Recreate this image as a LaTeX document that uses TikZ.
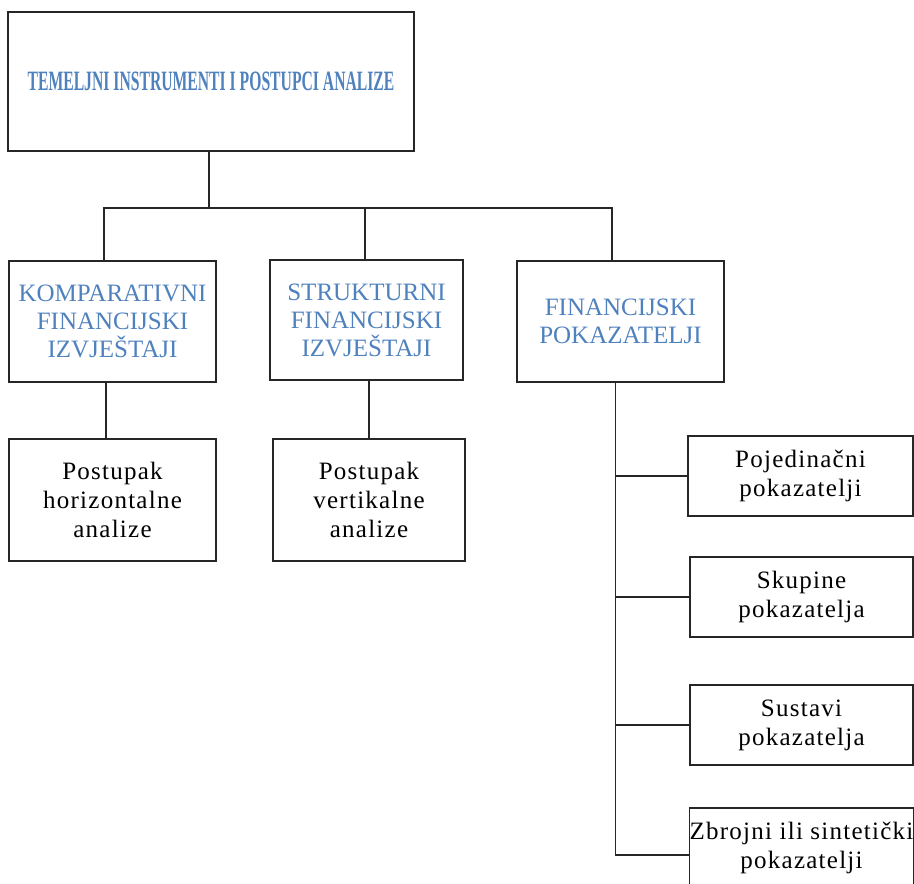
\documentclass[tikz,border=0pt]{standalone}
\usepackage{fontspec}
\usepackage{xcolor}
\setmainfont{Liberation Serif}
\newfontfamily\titlefont[FakeStretch=0.56]{Liberation Serif}
\newfontfamily\boxfont[LetterSpace=5]{Liberation Serif}
\definecolor{titleblue}{RGB}{79,129,189}

\begin{document}
\begin{tikzpicture}[x=1pt, y=-1pt,
            every node/.style = {shape=rectangle, draw=black!85,
                                 line width=1.2pt, align=center, inner sep=0pt},
            bluebox/.style = {text=titleblue, font=\fontsize{25}{28}\selectfont},
            blackbox/.style = {font=\boxfont\fontsize{25}{29}\selectfont},
            link/.style = {draw=black!85, line width=1.2pt}]
    \useasboundingbox (0,0) rectangle (914,884);
    % top
    \node[minimum width=406pt, minimum height=139pt, text=titleblue,
          font=\titlefont\bfseries\fontsize{28}{32}\selectfont]
          (top) at (211,81.5) {TEMELJNI INSTRUMENTI I POSTUPCI ANALIZE};
    % second level
    \node[bluebox, minimum width=207pt, minimum height=121pt] (komp) at (112.5,321.5)
          {KOMPARATIVNI\\FINANCIJSKI\\IZVJEŠTAJI};
    \node[bluebox, minimum width=193pt, minimum height=120pt] (strukt) at (366.5,320)
          {STRUKTURNI\\FINANCIJSKI\\IZVJEŠTAJI};
    \node[bluebox, minimum width=207pt, minimum height=121pt] (pokaz) at (620.5,321.5)
          {FINANCIJSKI\\POKAZATELJI};
    % third level
    \node[blackbox, minimum width=207pt, minimum height=122pt] (horiz) at (112.5,500)
          {Postupak\\horizontalne\\analize};
    \node[blackbox, minimum width=192pt, minimum height=122pt] (vert) at (369,500)
          {Postupak\\vertikalne\\analize};
    \node[blackbox, minimum width=225pt, minimum height=80pt] (pojed) at (800.5,476)
          {Pojedinačni\\pokazatelji};
    \node[blackbox, minimum width=223pt, minimum height=80pt] (skup) at (801.5,597)
          {Skupine\\pokazatelja};
    \node[blackbox, minimum width=223pt, minimum height=80pt] (sust) at (801.5,725)
          {Sustavi\\pokazatelja};
    \node[blackbox, minimum width=223pt, minimum height=80pt] (zbroj) at (801.5,848)
          {Zbrojni ili sintetički\\pokazatelji};
    \coordinate (bar) at (0,208);
    \coordinate (trunk) at ([xshift=-5pt]pokaz.south);
    % connectors
    \draw[link] ([xshift=-2pt]top.south) -- ([xshift=-2pt]top.south |- bar);
    \draw[link] ([xshift=-8.5pt]komp.north) -- ([xshift=-8.5pt]komp.north |- bar)
                -- ([xshift=-8.5pt]pokaz.north |- bar) -- ([xshift=-8.5pt]pokaz.north);
    \draw[link] ([xshift=-1.5pt]strukt.north) -- ([xshift=-1.5pt]strukt.north |- bar);
    \draw[link] ([xshift=-6.5pt]komp.south) -- ([xshift=-6.5pt]komp.south |- horiz.north);
    \draw[link] (vert.north) -- (vert.north |- strukt.south);
    \draw[link] (trunk) |- ([yshift=-7pt]zbroj.west);
    \foreach \n in {pojed, skup, sust}
        \draw[link] (\n.west) -- (\n.west -| trunk);
\end{tikzpicture}
\end{document}
